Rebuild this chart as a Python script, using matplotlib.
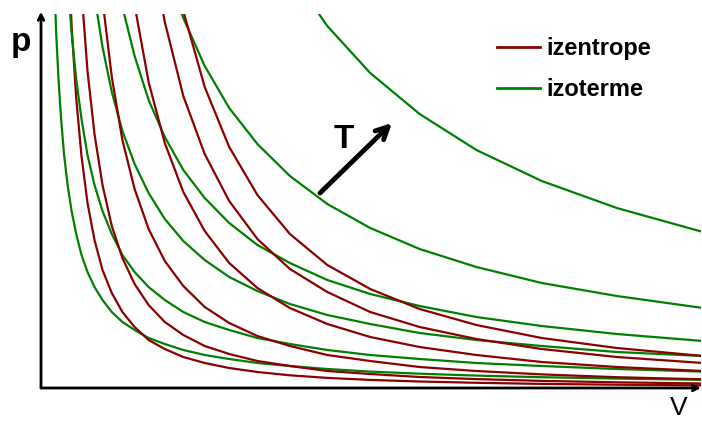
"""
p-V diagram: izentrope vs izoterme
"""
import matplotlib.pyplot as plt

# volume samples (geometric spacing); each curve uses the tail of this grid
v_grid = [0.1, 0.115, 0.132, 0.152, 0.175, 0.201, 0.231, 0.266, 0.306, 0.352,
          0.405, 0.465, 0.535, 0.615, 0.708, 0.814, 0.936, 1.076, 1.238, 1.423,
          1.637, 1.882, 2.164, 2.489, 2.863, 3.292, 3.786, 4.354, 5.007, 5.758, 6.62]

# isotherms (green), pressure, last value at v = 6.62
izoterme = [
    [4.08, 3.55, 3.09, 2.69, 2.33, 2.03, 1.77, 1.54, 1.33, 1.16, 1.01, 0.88,
     0.76, 0.66, 0.58, 0.50, 0.44, 0.38, 0.33, 0.29, 0.25, 0.22, 0.19, 0.164,
     0.143, 0.124, 0.108, 0.094, 0.082],
    [5.40, 4.70, 4.08, 3.55, 3.09, 2.69, 2.33, 2.03, 1.77, 1.54, 1.33, 1.16,
     1.01, 0.88, 0.76, 0.66, 0.58, 0.50, 0.44, 0.38, 0.33, 0.29, 0.25, 0.22,
     0.19, 0.164],
    [4.50, 3.92, 3.41, 2.96, 2.57, 2.24, 1.95, 1.69, 1.47, 1.28, 1.11, 0.97,
     0.84, 0.73, 0.64, 0.55, 0.48, 0.42, 0.36, 0.32],
    [4.39, 3.81, 3.32, 2.88, 2.51, 2.18, 1.90, 1.65, 1.43, 1.25, 1.08, 0.94,
     0.82, 0.71, 0.62, 0.54, 0.47],
    [4.26, 3.70, 3.22, 2.80, 2.44, 2.12, 1.84, 1.60, 1.39, 1.21, 1.05, 0.92, 0.80],
    [4.16, 3.62, 3.15, 2.74, 2.38, 2.07, 1.80, 1.56],
]

# isentropes (dark red)
izentrope = [
    [4.53, 3.62, 2.90, 2.32, 1.85, 1.48, 1.18, 0.95, 0.76, 0.61, 0.48, 0.39,
     0.31, 0.25, 0.20, 0.16, 0.127, 0.101, 0.081, 0.065, 0.052, 0.041, 0.033,
     0.026],
    [3.97, 3.17, 2.54, 2.03, 1.62, 1.30, 1.04, 0.83, 0.66, 0.53, 0.42, 0.34,
     0.27, 0.22, 0.17, 0.14, 0.11, 0.089, 0.071, 0.057, 0.045],
    [3.88, 3.11, 2.48, 1.99, 1.59, 1.27, 1.02, 0.81, 0.65, 0.52, 0.42, 0.33,
     0.27, 0.21, 0.17, 0.136, 0.108, 0.087],
    [3.83, 3.06, 2.45, 1.96, 1.57, 1.25, 1.00, 0.80, 0.64, 0.51, 0.41, 0.33,
     0.26, 0.21, 0.17],
    [4.57, 3.66, 2.92, 2.34, 1.87, 1.49, 1.19, 0.96, 0.76, 0.61, 0.49, 0.39,
     0.31, 0.25],
    [3.77, 3.01, 2.41, 1.93, 1.54, 1.23, 0.99, 0.79, 0.63, 0.50, 0.40, 0.32],
]

RED = '#8b0000'
GREEN = '#008000'

plt.rcParams['font.family'] = ['Liberation Sans', 'DejaVu Sans']

fig = plt.figure(figsize=(7.02, 4.21), dpi=100)
ax = fig.add_axes([41 / 702, 33 / 421, 660 / 702, 374 / 421])

for iz, it in zip(izentrope, izoterme):
    ax.plot(v_grid[-len(it):], it, color=GREEN, lw=1.6)
    ax.plot(v_grid[-len(iz):], iz, color=RED, lw=1.6)

ax.set_xlim(0, 6.6)
ax.set_ylim(0, 3.74)
ax.set_xticks([])
ax.set_yticks([])
for s in ax.spines.values():
    s.set_visible(False)

# axes drawn as arrows
ax.annotate('', xy=(0, 1.006), xytext=(0, 0), xycoords='axes fraction',
            arrowprops=dict(arrowstyle='->', lw=2, color='black', mutation_scale=10,
                            shrinkA=0, shrinkB=0))
ax.annotate('', xy=(1.0, 0), xytext=(0, 0), xycoords='axes fraction',
            arrowprops=dict(arrowstyle='->', lw=2, color='black', mutation_scale=10,
                            shrinkA=0, shrinkB=0))

fig.text(21 / 702, 1 - 42 / 421, 'p', fontsize=24, fontweight='bold',
         ha='center', va='center')
fig.text(679 / 702, 1 - 420 / 421, 'V', fontsize=19,
         ha='center', va='bottom')

# temperature arrow
fig.text(344 / 702, 1 - 139 / 421, 'T', fontsize=24, fontweight='bold',
         ha='center', va='center')
ax.annotate('', xy=(392 / 702, 1 - 123 / 421), xytext=(320 / 702, 1 - 193 / 421),
            xycoords='figure fraction',
            arrowprops=dict(arrowstyle='->', lw=3.5, color='black', mutation_scale=22,
                            shrinkA=0, shrinkB=0))

# legend
handles = [plt.Line2D([], [], color=RED, lw=2), plt.Line2D([], [], color=GREEN, lw=2)]
ax.legend(handles, ['izentrope', 'izoterme'], loc='upper left',
          bbox_to_anchor=(476 / 702, 1 - 16 / 421), bbox_transform=fig.transFigure,
          frameon=False, prop=dict(size=17, weight='bold'),
          handlelength=1.8, handletextpad=0.3, labelspacing=0.77)

plt.savefig('out.png', dpi=100, facecolor='white')
plt.close()
